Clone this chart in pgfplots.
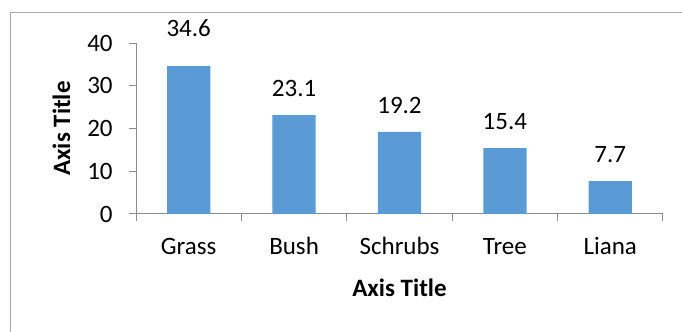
\documentclass[border=0pt]{standalone}
\usepackage{fontspec}
\setmainfont{Carlito}
\usepackage{pgfplots}
\pgfplotsset{compat=1.18}
\definecolor{barblue}{HTML}{5B9BD5}
\definecolor{axgray}{HTML}{8C8C8C}
\definecolor{framegray}{HTML}{A6A6A6}
\begin{document}
\fontsize{12.5}{15}\selectfont
\begin{tikzpicture}
\draw[framegray, line width=0.75pt] (5.25pt,-5pt) -- (5.25pt,159.75pt) -- (350pt,159.75pt);
\begin{axis}[
  at={(68pt,59pt)}, anchor=south west,
  scale only axis, width=263.5pt, height=85.5pt,
  xmin=-0.5, xmax=4.5, ymin=0, ymax=40,
  axis x line=bottom, axis y line=left,
  axis line style={axgray, -, line width=0.5pt},
  tick style={axgray, line width=0.5pt},
  tick align=outside, major tick length=3.5pt,
  ytick={0,10,20,30,40},
  xtick={-0.5,0.5,1.5,2.5,3.5,4.5},
  xticklabels={},
  extra x ticks={0,1,2,3,4},
  extra x tick labels={Grass,Bush,Schrubs,Tree,Liana},
  extra x tick style={major tick length=0pt},
  xticklabel style={anchor=base, inner sep=0pt, yshift=-20.5pt, black},
  yticklabel style={anchor=east, inner sep=0pt, xshift=-8pt, black},
  /pgf/number format/assume math mode=true,
  clip=false,
  xlabel={\bfseries Axis Title},
  ylabel={\bfseries Axis Title},
  xlabel style={at={([yshift=-41.5pt]axis description cs:0.5,0)}, anchor=base, inner sep=0pt, black},
  ylabel style={at={([xshift=-33pt]axis description cs:0,0.5)}, anchor=base, inner sep=0pt, black},
  nodes near coords,
  visualization depends on={y \as \rawy},
  nodes near coords style={/pgf/number format/fixed, /pgf/number format/precision=1, /pgf/number format/fixed zerofill},
  every node near coord/.append style={anchor=base, inner sep=0pt, yshift={ifthenelse(\rawy>30,15,9.25)}, black},
]
\addplot[ybar, fill=barblue, draw=none, bar width=0.41] coordinates {(0,34.6) (1,23.1) (2,19.2) (3,15.4) (4,7.7)};
\end{axis}
\pgfresetboundingbox
\path[use as bounding box] (0pt,0pt) rectangle (341pt,166pt);
\end{tikzpicture}
\end{document}
